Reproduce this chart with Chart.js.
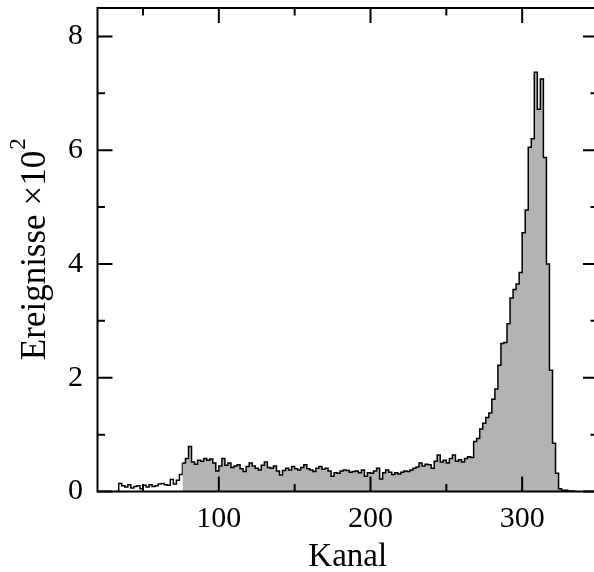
<!DOCTYPE html>
<html>
<head>
<meta charset="utf-8">
<script src="https://cdn.jsdelivr.net/npm/chart.js@4"></script>
<style>
  html, body { margin: 0; padding: 0; background: #fff; overflow: hidden; }
</style>
</head>
<body>
<canvas id="chart_kanal" width="600" height="572"></canvas>
<script>
// counts in units of 10^2, histogram with 2-channel bins
var binWidth = 2;
var lowStart = 32;
var lowCounts = [0, 0.14, 0.10, 0.08, 0.12, 0.06, 0.09, 0.10, 0.05, 0.11, 0.08,
                 0.12, 0.09, 0.10, 0.13, 0.14, 0.12, 0.11, 0.21, 0.13, 0.20, 0.30];
var mainStart = 76;
var mainCounts = [
    0.50, 0.58, 0.79, 0.52, 0.48, 0.55, 0.53, 0.58, 0.55, 0.57, 0.50, 0.36,
    0.45, 0.58, 0.46, 0.50, 0.42, 0.45, 0.47, 0.40, 0.35, 0.44,
    0.50, 0.45, 0.41, 0.38, 0.46, 0.52, 0.42, 0.41, 0.45, 0.36,
    0.29, 0.37, 0.41, 0.38, 0.44, 0.40, 0.38, 0.42, 0.47, 0.40,
    0.38, 0.35, 0.41, 0.44, 0.39, 0.41, 0.36, 0.27, 0.33, 0.32,
    0.36, 0.38, 0.37, 0.34, 0.35, 0.36, 0.33, 0.38, 0.27, 0.33,
    0.32, 0.36, 0.41, 0.22, 0.33, 0.38, 0.34, 0.30, 0.33, 0.31,
    0.34, 0.36, 0.35, 0.38, 0.41, 0.43, 0.50, 0.45, 0.48, 0.47,
    0.41, 0.53, 0.64, 0.52, 0.55, 0.50, 0.58, 0.64, 0.53, 0.56,
    0.52, 0.58, 0.61, 0.60, 0.88, 0.93, 1.10, 1.20, 1.30, 1.38,
    1.62, 1.80, 2.22, 2.60, 2.62, 2.95, 3.40, 3.55, 3.65, 3.85,
    4.55, 4.95, 6.05, 6.20, 7.37, 6.72, 7.25, 5.87, 4.00, 2.13,
    0.85, 0.32, 0.05, 0.02, 0.02, 0.01, 0.01, 0.00
];
var xTickValues = [100, 200, 300];
var xMinorTicks = [50, 150, 250, 350];
var yTickValues = [0, 2, 4, 6, 8];
var yMinorTicks = [1, 3, 5, 7];
var yTitle = 'Ereignisse ×10';
var yTitleExp = '2';

function toPoints(start, counts, closeY) {
    var pts = counts.map(function(c, i) { return {x: start + i * binWidth, y: c}; });
    pts.push({x: start + counts.length * binWidth, y: closeY});
    return pts;
}

var serif = 'Liberation Serif';

var chart_kanal = new Chart(document.getElementById('chart_kanal'), {
    type: 'line',
    data: {
        datasets: [
            {
                label: 'Ereignisse',
                data: toPoints(mainStart, mainCounts, mainCounts[mainCounts.length - 1]),
                stepped: true,
                pointRadius: 0,
                borderWidth: 1.5,
                borderColor: '#000',
                backgroundColor: '#b3b3b3',
                fill: 'origin'
            },
            {
                label: 'Ereignisse (low)',
                data: toPoints(lowStart, lowCounts, mainCounts[0]),
                stepped: true,
                pointRadius: 0,
                borderWidth: 1.5,
                borderColor: '#000',
                fill: false
            }
        ]
    },
    options: {
        animation: false,
        responsive: false,
        layout: { padding: { left: 68, right: 2, top: 8, bottom: 0 } },
        plugins: {
            legend: { display: false },
            tooltip: { enabled: false }
        },
        scales: {
            x: {
                type: 'linear',
                min: 20,
                max: 350,
                afterBuildTicks: function(scale) {
                    scale.ticks = xTickValues.map(function(v) { return {value: v}; });
                },
                grid: { display: false, drawTicks: false },
                border: { display: false },
                ticks: {
                    padding: 12.5,
                    color: '#000',
                    maxRotation: 0,
                    font: { family: serif, size: 30, lineHeight: 1 }
                },
                title: {
                    display: true,
                    text: 'Kanal',
                    color: '#000',
                    padding: { top: 0, bottom: 4.7 },
                    font: { family: serif, size: 33, lineHeight: 0.63 }
                }
            },
            y: {
                type: 'linear',
                min: 0,
                max: 8.5,
                afterBuildTicks: function(scale) {
                    scale.ticks = yTickValues.map(function(v) { return {value: v}; });
                },
                grid: { display: false, drawTicks: true, tickLength: 14.5 },
                border: { display: false },
                ticks: {
                    padding: 0,
                    color: '#000',
                    font: { family: serif, size: 30, lineHeight: 0 }
                }
            }
        }
    },
    plugins: [{
        id: 'frameTicks',
        afterDatasetsDraw: function(chart) {
            var ctx = chart.ctx;
            var a = chart.chartArea;
            var xs = chart.scales.x, ys = chart.scales.y;
            ctx.save();
            ctx.strokeStyle = '#000';
            ctx.lineWidth = 2;
            ctx.strokeRect(a.left, a.top, a.right - a.left, a.bottom - a.top);
            ctx.beginPath();
            function xTick(v, len) {
                var px = xs.getPixelForValue(v);
                ctx.moveTo(px, a.bottom); ctx.lineTo(px, a.bottom - len);
                ctx.moveTo(px, a.top); ctx.lineTo(px, a.top + len);
            }
            function yTick(v, len) {
                var py = ys.getPixelForValue(v);
                ctx.moveTo(a.left, py); ctx.lineTo(a.left + len, py);
                ctx.moveTo(a.right, py); ctx.lineTo(a.right - len, py);
            }
            xTickValues.forEach(function(v) { xTick(v, 15); });
            xMinorTicks.forEach(function(v) { xTick(v, 7.5); });
            yTickValues.forEach(function(v) { yTick(v, 15); });
            yMinorTicks.forEach(function(v) { yTick(v, 7.5); });
            ctx.stroke();
            ctx.restore();
        }
    }, {
        id: 'yTitleSup',
        afterDraw: function(chart) {
            var ctx = chart.ctx;
            var a = chart.chartArea;
            var mainFont = '35px "' + serif + '"';
            var supFont = '23px "' + serif + '"';
            ctx.save();
            ctx.font = mainFont;
            var w1 = ctx.measureText(yTitle).width;
            ctx.font = supFont;
            var w2 = ctx.measureText(yTitleExp).width;
            var cy = (a.top + a.bottom) / 2;
            ctx.translate(45, cy);
            ctx.rotate(-Math.PI / 2);
            ctx.fillStyle = '#000';
            ctx.textBaseline = 'alphabetic';
            ctx.textAlign = 'left';
            var start = -(w1 + w2) / 2;
            ctx.font = mainFont;
            ctx.fillText(yTitle, start, 0);
            ctx.font = supFont;
            ctx.fillText(yTitleExp, start + w1 + 1, -20);
            ctx.restore();
        }
    }, {
        id: 'whiteBackground',
        beforeDraw: function(chart) {
            var ctx = chart.ctx;
            ctx.save();
            ctx.fillStyle = 'white';
            ctx.fillRect(0, 0, chart.width, chart.height);
            ctx.restore();
        }
    }]
});
</script>
</body>
</html>
